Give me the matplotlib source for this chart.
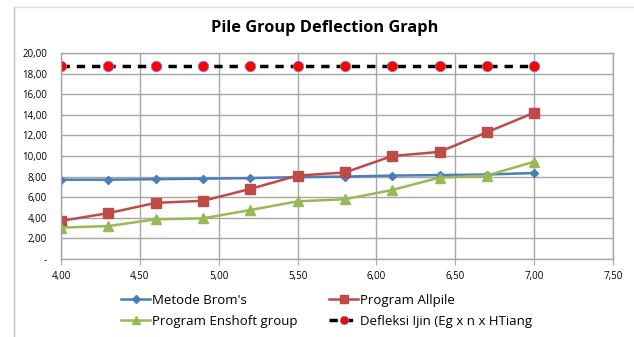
import matplotlib
matplotlib.use("Agg")
import matplotlib.pyplot as plt
from matplotlib.lines import Line2D
from matplotlib.ticker import FuncFormatter, MultipleLocator

# ── Data ────────────────────────────────────────────────────────────────────
x_vals = [4.0, 4.3, 4.6, 4.9, 5.2, 5.5, 5.8, 6.1, 6.4, 6.7, 7.0]
brom = [7.70, 7.70, 7.75, 7.80, 7.85, 7.95, 8.00, 8.10, 8.15, 8.20, 8.35]
allpile = [3.70, 4.45, 5.45, 5.65, 6.80, 8.10, 8.40, 10.00, 10.40, 12.30, 14.20]
enshoft = [3.05, 3.20, 3.85, 3.95, 4.75, 5.60, 5.80, 6.70, 7.90, 8.10, 9.45]
defleksi = [18.70] * 11

labels = ["Metode Brom's", "Program Allpile", "Program Enshoft group",
          "Defleksi Ijin (Eg x n x HTiang"]

# ── Style ───────────────────────────────────────────────────────────────────
plt.rcParams.update({
    'font.family': ['Open Sans', 'DejaVu Sans'],
    'font.size': 7,
})

C_BLUE = '#4A7EBB'
C_RED = '#BE4B48'
C_GREEN = '#98B954'
GRID = '#A6A6A6'
FRAME = '#BFBFBF'

W, H = 634, 337
fig = plt.figure(figsize=(W / 100, H / 100), dpi=100)

# chart area frame (screenshot is cropped: only top and left edges show)
fig.add_artist(Line2D([14 / W, 14 / W], [0, 1 - 7 / H], color=FRAME, lw=1.0))
fig.add_artist(Line2D([14 / W, 1], [1 - 7 / H, 1 - 7 / H], color='#E0E0E0', lw=1.0))

ax = fig.add_axes([61 / W, 1 - 259 / H, (613 - 61) / W, (259 - 53) / H])

h1, = ax.plot(x_vals, brom, '-D', color=C_BLUE, lw=1.8, ms=4.5)
h2, = ax.plot(x_vals, allpile, '-s', color=C_RED, lw=1.8, ms=6.5)
h3, = ax.plot(x_vals, enshoft, '-^', color=C_GREEN, lw=1.8, ms=7)
h4, = ax.plot(x_vals, defleksi, '--o', color='black', lw=2.5, dashes=(2.4, 2.0),
              ms=7.5, mfc='#FF0000', mec='#8080C0', mew=0.6)

ax.set_xlim(4.0, 7.5)
ax.set_ylim(0, 20)
ax.xaxis.set_major_locator(MultipleLocator(0.5))
ax.yaxis.set_major_locator(MultipleLocator(2))
ax.xaxis.set_major_formatter(FuncFormatter(lambda v, p: f"{v:.2f}".replace('.', ',')))
ax.yaxis.set_major_formatter(FuncFormatter(
    lambda v, p: '-' if abs(v) < 1e-9 else f"{v:.2f}".replace('.', ',')))
ax.grid(True, color=GRID, linewidth=1.0)
ax.set_axisbelow(True)
for s in ax.spines.values():
    s.set_color(GRID)
    s.set_linewidth(1.0)
ax.tick_params(axis='y', length=0, pad=10)
ax.tick_params(axis='x', length=4, color=GRID, pad=5)

fig.text(325 / W, 1 - 28 / H, 'Pile Group Deflection Graph', ha='center',
         va='center', fontsize=11.8, fontweight='bold')

# Excel fills legend row by row -> reorder for matplotlib's column fill
fig.legend([h1, h3, h2, h4], [labels[0], labels[2], labels[1], labels[3]],
           loc='center left', bbox_to_anchor=(121 / W, 1 - 311 / H), ncol=2,
           frameon=False, fontsize=9.5, handlelength=2.2, columnspacing=2.4,
           handletextpad=0.15, labelspacing=0.6, markerscale=0.8,
           borderpad=0, borderaxespad=0)

fig.savefig('out.png', dpi=100)
